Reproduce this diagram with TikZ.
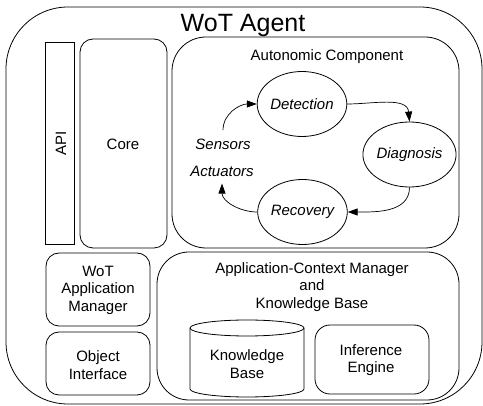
\documentclass[tikz,border=0pt]{standalone}
\usepackage{fontspec}
\setmainfont{Liberation Sans}
\usetikzlibrary{shapes.geometric,arrows.meta}
\begin{document}
\begin{tikzpicture}[x=1pt,y=-1pt,
  line width=0.8pt,
  every node/.style={font=\fontsize{15}{17.5}\selectfont},
  rbox/.style={draw, rounded corners=12pt, inner sep=0pt},
  sqbox/.style={draw, inner sep=0pt},
  phase/.style={draw, ellipse, minimum width=75pt, minimum height=65pt, inner sep=0pt, font=\fontsize{15}{17.5}\selectfont\itshape},
  lbl/.style={inner sep=0pt, align=center},
  ilbl/.style={inner sep=0pt, font=\fontsize{15}{17.5}\selectfont\itshape},
  flow/.style={-{Triangle[length=10pt,width=7pt]}, line width=0.7pt}]
\useasboundingbox (0,0) rectangle (483,406);

% outer agent
\draw[rounded corners=62pt] (6,7) rectangle (482,404);
\coordinate (agent) at (244,205.5);
\node[lbl, anchor=base, font=\fontsize{25}{28}\selectfont] (title) at (243,32) {WoT Agent};

% API and Core
\node[sqbox, minimum width=29pt, minimum height=202pt] (api) at (59.5,143) {};
\node[lbl, rotate=90] (apit) at (61,143) {API};
\draw[rounded corners=13pt] (80,39) rectangle (167,248);
\node[lbl] (core) at (123,144) {Core};

% Autonomic component
\draw[rounded corners=34pt] (172,37) rectangle (459,248);
\node[lbl, anchor=base] (autot) at (327,61) {Autonomic Component};
\node[phase] (det) at (302,104) {Detection};
\node[phase] (diag) at (409.5,154.5) {Diagnosis};
\node[phase] (rec) at (302.5,212) {Recovery};
\node[ilbl, anchor=base] (sens) at (223,150) {Sensors};
\node[ilbl, anchor=base] (act) at (222,177) {Actuators};
\draw[flow] ([yshift=9pt]sens.north) to[out=90,in=180] (det.west);
\draw[flow] (det.east) to[out=0,in=95] (diag.north);
\draw[flow] (diag.south) to[out=-90,in=0] (rec.east);
\draw[flow] (rec.west) to[out=180,in=-90] ([yshift=-6pt]act.south);

% WoT application manager, object interface
\draw[rounded corners=13pt] (46,253) rectangle (150,326);
\node[lbl] (wam) at (98,290) {WoT\\Application\\Manager};
\draw[rounded corners=13pt] (46,332) rectangle (150,395);
\node[lbl] (obj) at (98,365) {Object\\Interface};

% application-context manager
\draw[rounded corners=32pt] (157,252) rectangle (459,400);
\node[lbl] (acm) at (312,287) {Application-Context Manager\\and\\Knowledge Base};

% knowledge base cylinder
\draw (190,328) -- (190,389) arc[start angle=180, end angle=360, x radius=57pt, y radius=8pt] -- (304,328);
\draw (247,328) ellipse [x radius=57pt, y radius=8pt];
\node[lbl] (kb) at (247,364) {Knowledge\\Base};

% inference engine
\draw[rounded corners=15pt] (315,325) rectangle (429,394);
\node[lbl] (inf) at (371,360) {Inference\\Engine};
\end{tikzpicture}
\end{document}
